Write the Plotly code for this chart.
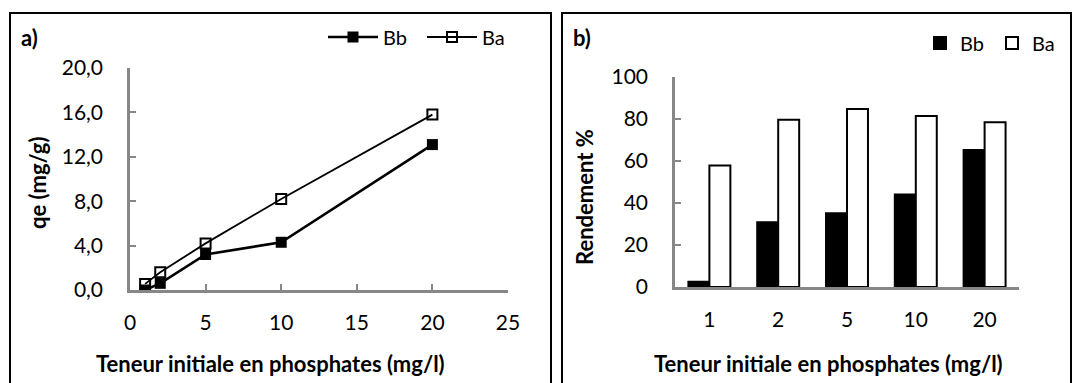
import plotly.graph_objects as go

# data
teneur = [1, 2, 5, 10, 20]
qe_bb = [0.0, 0.6, 3.2, 4.3, 13.1]
qe_ba = [0.55, 1.6, 4.2, 8.2, 15.8]

categories = ["1", "2", "5", "10", "20"]
rend_bb = [2.5, 30.8, 35.1, 44.1, 65.2]
rend_ba = [57.8, 79.7, 84.8, 81.4, 78.4]

W, H = 1072, 383
FONT = "Lato"
GREY = "#878787"


def px(x):
    return x / W


def py(y):
    return 1 - y / H


fig = go.Figure()

# a) adsorption capacity
fig.add_trace(go.Scatter(
    x=teneur, y=qe_bb, name="Bb", mode="lines+markers",
    line=dict(color="black", width=2.6),
    marker=dict(symbol="square", size=11, color="black"),
    xaxis="x", yaxis="y", legend="legend",
))
fig.add_trace(go.Scatter(
    x=teneur, y=qe_ba, name="Ba", mode="lines+markers",
    line=dict(color="black", width=1.8),
    marker=dict(symbol="square-open", size=10, color="black", line=dict(width=2)),
    xaxis="x", yaxis="y", legend="legend",
))

# b) yield
fig.add_trace(go.Bar(
    x=categories, y=rend_bb, name="Bb",
    marker=dict(color="black", line=dict(color="black", width=2)),
    xaxis="x2", yaxis="y2", legend="legend2",
))
fig.add_trace(go.Bar(
    x=categories, y=rend_ba, name="Ba",
    marker=dict(color="white", line=dict(color="black", width=2)),
    xaxis="x2", yaxis="y2", legend="legend2",
))

axis_common = dict(
    showline=True, linecolor=GREY, linewidth=2.5,
    ticks="inside", tickcolor=GREY, tickwidth=2, ticklen=6,
    showgrid=False, zeroline=False,
    tickfont=dict(family=FONT, size=21, color="black"),
)

fig.update_layout(
    width=W, height=H,
    margin=dict(l=0, r=0, t=0, b=0, autoexpand=False),
    paper_bgcolor="white", plot_bgcolor="white",
    separators=", ",
    font=dict(family=FONT, color="black"),
    barmode="group", bargap=0.39, bargroupgap=0,
    xaxis=dict(axis_common, domain=[px(130), px(508)], range=[0, 25],
               dtick=5, anchor="y", ticklabelstandoff=12),
    yaxis=dict(axis_common, domain=[py(290), py(68)], range=[0, 20],
               dtick=4, tickformat=".1f", anchor="x", ticklabelstandoff=20),
    xaxis2=dict(axis_common, domain=[px(675), px(1019)], ticks="",
                anchor="y2", ticklabelstandoff=12),
    yaxis2=dict(axis_common, domain=[py(287), py(77)], range=[0, 100],
                dtick=20, anchor="x2", ticklabelstandoff=20),
    legend=dict(orientation="h", x=px(323), y=py(37), xanchor="left", yanchor="middle",
                font=dict(family=FONT, size=20), bgcolor="rgba(0,0,0,0)",
                itemwidth=50, entrywidth=34, tracegroupgap=0),
    legend2=dict(orientation="h", x=px(920), y=py(43), xanchor="left", yanchor="middle",
                 font=dict(family=FONT, size=20), bgcolor="rgba(0,0,0,0)",
                 itemwidth=30, entrywidth=27, tracegroupgap=0),
)

# panel frames
fig.add_shape(type="rect", xref="paper", yref="paper",
              x0=px(10), x1=px(551), y0=-0.2, y1=py(13),
              line=dict(color="black", width=2), layer="below")
fig.add_shape(type="rect", xref="paper", yref="paper",
              x0=px(562), x1=px(1071), y0=-0.2, y1=py(13),
              line=dict(color="black", width=2), layer="below")

bold = dict(family=FONT, size=22, color="black")
annots = [
    dict(text="<b>a)</b>", x=px(19), y=py(37), xanchor="left"),
    dict(text="<b>b)</b>", x=px(571), y=py(37), xanchor="left"),
    dict(text="<b>Teneur initiale en phosphates (mg/l)</b>", x=px(270), y=py(363), xanchor="center"),
    dict(text="<b>Teneur initiale en phosphates (mg/l)</b>", x=px(828), y=py(363), xanchor="center"),
    dict(text="<b>qe (mg/g)</b>", x=px(37), y=py(183), textangle=-90, xanchor="center"),
    dict(text="<b>Rendement %</b>", x=px(584), y=py(197), textangle=-90, xanchor="center"),
]
for a in annots:
    fig.add_annotation(xref="paper", yref="paper", showarrow=False,
                       yanchor="middle", font=bold, **a)

fig.write_html("out.html", config={"displayModeBar": False},
               post_script="document.body.style.margin='0';")
